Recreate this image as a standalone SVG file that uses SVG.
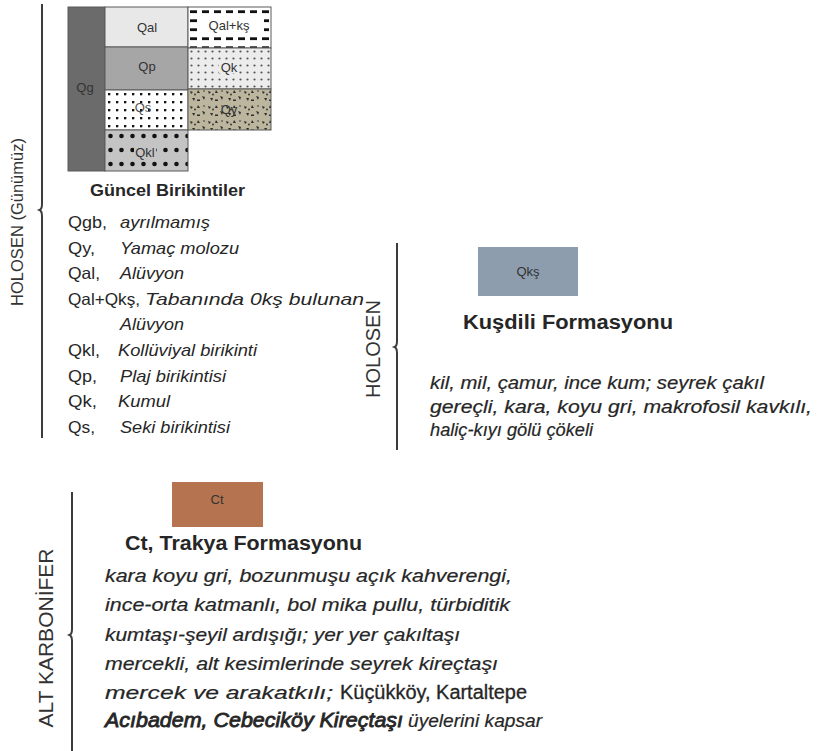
<svg xmlns="http://www.w3.org/2000/svg" width="820" height="751" viewBox="0 0 820 751">
<defs>
<style>
.t{font-family:"Liberation Sans",Arial,sans-serif;fill:#262626}
.lab{font-size:13px;fill:#333;text-anchor:middle}
.code{font-size:16.5px}
.desc{font-size:16.5px;font-style:italic}
.desc2{font-size:18px;font-style:italic;stroke:#262626;stroke-width:0.2}
.desc3{font-size:18px;font-style:italic;stroke:#262626;stroke-width:0.2}
.title{font-weight:bold;font-size:20px}
.br{fill:none;stroke:#3c3c3c;stroke-width:2}
.cell{stroke:#5a5a5a;stroke-width:1}
</style>
<pattern id="pDash" width="12" height="9" patternUnits="userSpaceOnUse" x="188" y="7">
<rect width="12" height="9" fill="#ffffff"/>
<rect x="2" y="3.3" width="7" height="2.8" fill="#111"/>
</pattern>
<pattern id="pDotS" width="7" height="7" patternUnits="userSpaceOnUse" x="188" y="48">
<rect width="7" height="7" fill="#ececec"/>
<circle cx="3.5" cy="3.5" r="1.1" fill="#555"/>
</pattern>
<pattern id="pSq" width="8" height="8" patternUnits="userSpaceOnUse" x="105" y="90">
<rect width="8" height="8" fill="#ffffff"/>
<rect x="3" y="3" width="2.3" height="2.3" fill="#111"/>
</pattern>
<pattern id="pBig" width="11" height="14" patternUnits="userSpaceOnUse" x="105" y="130">
<rect width="11" height="14" fill="#c4c4c4"/>
<circle cx="5.5" cy="6" r="2.3" fill="#111"/>
</pattern>
<pattern id="pRub" width="18" height="15" patternUnits="userSpaceOnUse" x="188" y="89">
<rect width="18" height="15" fill="#bcb69e"/>
<path d="M2 2 l3 1 l-2 2z M10 1 l2 3 h-3z M14 7 l3 1 l-1 3z M4 9 l3 0 l-1 3z M9 10.5 h3 v1.5 h-3z" fill="#2e2e2e"/>
<circle cx="7" cy="5.5" r="0.9" fill="#2e2e2e"/>
<circle cx="16" cy="2" r="0.8" fill="#2e2e2e"/>
</pattern>
</defs>
<rect width="820" height="751" fill="#ffffff"/>

<g id="brackets">
<path class="br" d="M42 4 V204 Q42 209 39.5 210 Q42 211 42 216 V438"/>
<path class="br" d="M397 243 V341 Q397 346 394.5 347 Q397 348 397 353 V450"/>
<path class="br" d="M72 492 V629 Q72 634 69.5 635 Q72 636 72 641 V751"/>
</g>

<g id="period-holosen-gunumuz">
<text class="t" font-size="16.5" text-anchor="middle" transform="translate(23,222) rotate(-90)" style="fill:#333">HOLOSEN (Günümüz)</text>
</g>

<g id="unit-grid">
<rect class="cell" x="68" y="7" width="37" height="164" fill="#6b6b6b"/>
<text class="t lab" x="85" y="92">Qg</text>
<rect class="cell" x="105" y="7" width="83" height="40" fill="#e8e8e8"/>
<text class="t lab" x="147" y="32">Qal</text>
<rect class="cell" x="105" y="47" width="83" height="43" fill="#a6a6a6"/>
<text class="t lab" x="147" y="71">Qp</text>
<rect class="cell" x="105" y="90" width="83" height="40" fill="url(#pSq)"/>
<text class="t lab" x="143" y="112" style="fill:#555">Qs</text>
<rect class="cell" x="105" y="130" width="83" height="41" fill="url(#pBig)"/>
<rect x="134" y="145" width="22" height="13" fill="#c4c4c4"/>
<text class="t lab" x="145" y="157">Qkl</text>
<rect class="cell" x="188" y="7" width="83" height="41" fill="url(#pDash)"/>
<rect x="198" y="16" width="66" height="17" fill="#ffffff"/>
<text class="t lab" x="229" y="30">Qal+kş</text>
<rect class="cell" x="188" y="48" width="83" height="41" fill="url(#pDotS)"/>
<rect x="219" y="60" width="20" height="13" fill="#ececec"/>
<text class="t lab" x="229" y="72">Qk</text>
<rect class="cell" x="188" y="89" width="83" height="41" fill="url(#pRub)"/>
<text class="t lab" x="229" y="114">Qy</text>
</g>

<g id="guncel-birikintiler">
<text class="t" font-size="17" font-weight="bold" x="90" y="196" textLength="155" lengthAdjust="spacingAndGlyphs">Güncel Birikintiler</text>
<text class="t code" x="68" y="228" textLength="39" lengthAdjust="spacingAndGlyphs">Qgb,</text>
<text class="t desc" x="120" y="228" textLength="90" lengthAdjust="spacingAndGlyphs">ayrılmamış</text>
<text class="t code" x="68" y="253.6" textLength="27" lengthAdjust="spacingAndGlyphs">Qy,</text>
<text class="t desc" x="120" y="253.6" textLength="119" lengthAdjust="spacingAndGlyphs">Yamaç molozu</text>
<text class="t code" x="68" y="279.2" textLength="32" lengthAdjust="spacingAndGlyphs">Qal,</text>
<text class="t desc" x="120" y="279.2" textLength="64" lengthAdjust="spacingAndGlyphs">Alüvyon</text>
<text class="t code" x="68" y="304.8" textLength="72" lengthAdjust="spacingAndGlyphs">Qal+Qkş,</text>
<text class="t desc" x="145" y="304.8" textLength="219" lengthAdjust="spacingAndGlyphs">Tabanında 0kş bulunan</text>
<text class="t desc" x="120" y="330.4" textLength="64" lengthAdjust="spacingAndGlyphs">Alüvyon</text>
<text class="t code" x="68" y="356" textLength="32" lengthAdjust="spacingAndGlyphs">Qkl,</text>
<text class="t desc" x="118" y="356" textLength="139" lengthAdjust="spacingAndGlyphs">Kollüviyal birikinti</text>
<text class="t code" x="68" y="381.6" textLength="29" lengthAdjust="spacingAndGlyphs">Qp,</text>
<text class="t desc" x="120" y="381.6" textLength="106" lengthAdjust="spacingAndGlyphs">Plaj birikintisi</text>
<text class="t code" x="68" y="407.2" textLength="29" lengthAdjust="spacingAndGlyphs">Qk,</text>
<text class="t desc" x="118" y="407.2" textLength="52" lengthAdjust="spacingAndGlyphs">Kumul</text>
<text class="t code" x="68" y="432.8" textLength="27" lengthAdjust="spacingAndGlyphs">Qs,</text>
<text class="t desc" x="120" y="432.8" textLength="110" lengthAdjust="spacingAndGlyphs">Seki birikintisi</text>
</g>

<g id="period-holosen">
<text class="t" font-size="20" text-anchor="middle" transform="translate(380,349) rotate(-90)" style="fill:#333">HOLOSEN</text>
</g>

<g id="kusdili-formasyonu">
<rect x="478" y="247" width="100" height="49" fill="#8e9dae"/>
<text class="t lab" x="528" y="276">Qkş</text>
<text class="t title" x="463" y="329" textLength="210" lengthAdjust="spacingAndGlyphs">Kuşdili Formasyonu</text>
<text class="t desc2" x="430" y="389" textLength="334" lengthAdjust="spacingAndGlyphs">kil, mil, çamur, ince kum; seyrek çakıl</text>
<text class="t desc2" x="430" y="413" textLength="382" lengthAdjust="spacingAndGlyphs">gereçli, kara, koyu gri, makrofosil kavkılı,</text>
<text class="t desc2" x="430" y="436" textLength="163" lengthAdjust="spacingAndGlyphs">haliç-kıyı gölü çökeli</text>
</g>

<g id="period-alt-karbonifer">
<text class="t" font-size="21" text-anchor="middle" transform="translate(53,638) rotate(-90)" style="fill:#333">ALT KARBONİFER</text>
</g>

<g id="trakya-formasyonu">
<rect x="172" y="482" width="91" height="45" fill="#b5734f"/>
<text class="t lab" x="217" y="504">Ct</text>
<text class="t title" x="125" y="550" textLength="237" lengthAdjust="spacingAndGlyphs">Ct, Trakya Formasyonu</text>
<text class="t desc3" x="105" y="582" textLength="407" lengthAdjust="spacingAndGlyphs">kara koyu gri, bozunmuşu açık kahverengi,</text>
<text class="t desc3" x="105" y="611" textLength="405" lengthAdjust="spacingAndGlyphs">ince-orta katmanlı, bol mika pullu, türbiditik</text>
<text class="t desc3" x="105" y="641" textLength="355" lengthAdjust="spacingAndGlyphs">kumtaşı-şeyil ardışığı; yer yer çakıltaşı</text>
<text class="t desc3" x="105" y="670" textLength="393" lengthAdjust="spacingAndGlyphs">mercekli, alt kesimlerinde seyrek kireçtaşı</text>
<text class="t desc3" x="105" y="699" textLength="228" lengthAdjust="spacingAndGlyphs" style="font-size:19px">mercek ve arakatkılı;</text>
<text class="t" font-size="19.5" x="340" y="699" textLength="187" lengthAdjust="spacingAndGlyphs" style="stroke:#262626;stroke-width:0.3">Küçükköy, Kartaltepe</text>
<text class="t desc3" x="105" y="727" textLength="298" lengthAdjust="spacingAndGlyphs" style="font-size:19.5px;stroke-width:0.8">Acıbadem, Cebeciköy Kireçtaşı</text>
<text class="t desc3" x="408" y="727" textLength="134" lengthAdjust="spacingAndGlyphs">üyelerini kapsar</text>
</g>
</svg>
